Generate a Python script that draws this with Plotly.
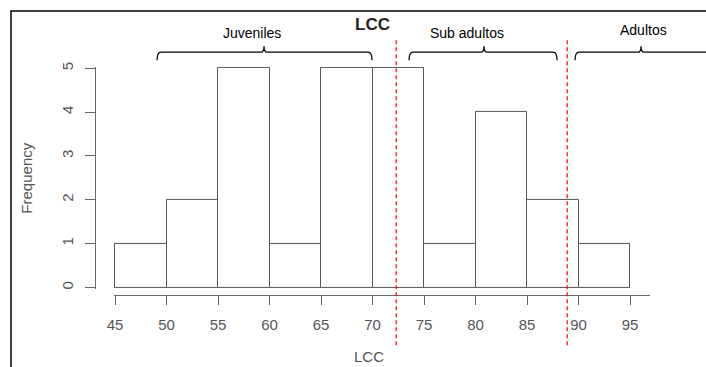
import plotly.graph_objects as go

# ---- data ----
bin_starts = [45, 50, 55, 60, 65, 70, 75, 80, 85, 90]
counts = [1, 2, 5, 1, 5, 5, 1, 4, 2, 1]
bin_width = 5
x_ticks = [45, 50, 55, 60, 65, 70, 75, 80, 85, 90, 95]
y_ticks = [0, 1, 2, 3, 4, 5]
cut_points = [72.3, 88.9]
group_labels = ["Juveniles", "Sub adultos", "Adultos"]

W, H = 706, 367
# map target picture pixels to page pixels (compensates the capture transform)
def PX(X):
    return (X - 7) / 0.99
def PY(Y):
    return (Y - 5) / 0.98
def px(X):
    return PX(X) / W
def py(Y):
    return 1 - PY(Y) / H

centers = [b + bin_width / 2 for b in bin_starts]

fig = go.Figure()
fig.add_trace(go.Bar(
    x=centers, y=counts, width=bin_width,
    marker=dict(color="white", line=dict(color="#555555", width=1)),
    hoverinfo="skip", showlegend=False,
))

# x scale: 45 at target 115, 95 at target 630
k = (PX(630) - PX(115)) / 50.0
xl, xr = PX(114), PX(650)
x_range = [45 + (xl - PX(115)) / k, 45 + (xr - PX(115)) / k]

fig.update_layout(
    width=W, height=H,
    margin=dict(l=0, r=0, t=0, b=0),
    paper_bgcolor="white", plot_bgcolor="white",
    font=dict(family="Liberation Sans, Arial, sans-serif"),
    bargap=0,
    xaxis=dict(
        domain=[xl / W, xr / W],
        range=x_range,
        anchor="free", position=py(294),
        showgrid=False, zeroline=False,
        showline=True, linecolor="#666666", linewidth=1,
        ticks="outside", ticklen=9, tickcolor="#666666", tickwidth=1,
        tickvals=x_ticks, ticktext=[str(v) for v in x_ticks],
        tickfont=dict(size=15, color="#555555"),
        ticklabelstandoff=7,
    ),
    yaxis=dict(
        domain=[py(287.8), py(66.7)],
        range=[-0.03, 5.03],
        anchor="free", position=px(95),
        showgrid=False, zeroline=False,
        showline=True, linecolor="#666666", linewidth=1,
        ticks="outside", ticklen=10, tickcolor="#666666", tickwidth=1,
        tickvals=y_ticks, ticktext=[str(v) for v in y_ticks],
        tickangle=-90,
        tickfont=dict(size=15, color="#555555"),
        ticklabelstandoff=6,
    ),
)

shapes = []
# frame
shapes.append(dict(type="rect", xref="paper", yref="paper",
                   x0=px(11), x1=1.2, y0=-0.2, y1=py(11),
                   line=dict(color="black", width=1.5), fillcolor="rgba(0,0,0,0)"))
# red dashed cut lines
for c in cut_points:
    shapes.append(dict(type="line", xref="x", yref="paper",
                       x0=c, x1=c, y0=py(40), y1=py(346),
                       line=dict(color="red", width=1.2, dash="4px,3px")))

# brackets (target pixel positions: left, tip, right)
brackets = [(157, 264, 372), (409, 484, 557), (575, 641, 760)]
ly, ey, ty = 52, 60, 46
for xa, xt, xb in brackets:
    p = (f"M {px(xa)},{py(ey)} Q {px(xa)},{py(ly)} {px(xa+4)},{py(ly)} "
         f"L {px(xt-3)},{py(ly)} Q {px(xt)},{py(ly)} {px(xt)},{py(ty)} "
         f"Q {px(xt)},{py(ly)} {px(xt+3)},{py(ly)} "
         f"L {px(xb-4)},{py(ly)} Q {px(xb)},{py(ly)} {px(xb)},{py(ey)}")
    shapes.append(dict(type="path", xref="paper", yref="paper", path=p,
                       line=dict(color="black", width=1.3)))
fig.update_layout(shapes=shapes)

annotations = [
    dict(text="<b>LCC</b>", x=px(372), y=py(24), font=dict(size=17, color="#222222")),
    dict(text="LCC", x=px(369), y=py(355), font=dict(size=15, color="#555555")),
    dict(text="Frequency", x=px(27), y=py(178), textangle=-90, font=dict(size=15, color="#555555")),
    dict(text=group_labels[0], x=px(252), y=py(33), font=dict(size=14, color="black")),
    dict(text=group_labels[1], x=px(467), y=py(33), font=dict(size=14, color="black")),
    dict(text=group_labels[2], x=px(643), y=py(30), font=dict(size=14, color="black")),
]
for a in annotations:
    a.update(xref="paper", yref="paper", showarrow=False, xanchor="center", yanchor="middle")
fig.update_layout(annotations=annotations)

fig.write_html("out.html", config={"displayModeBar": False},
               post_script="document.body.style.margin='0px';document.body.style.overflow='hidden';")
